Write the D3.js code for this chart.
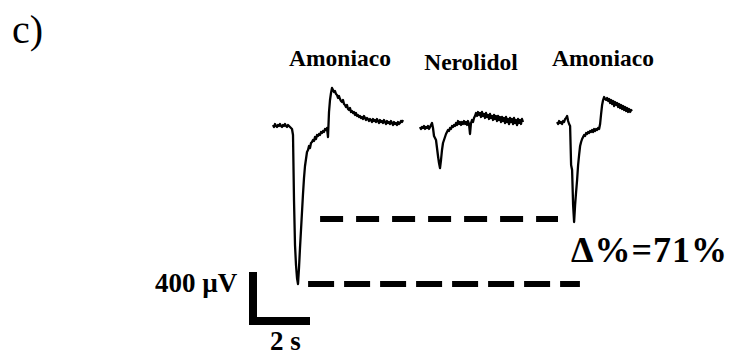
<!DOCTYPE html>
<html>
<head>
<meta charset="utf-8">
<script src="https://cdn.jsdelivr.net/npm/d3@7"></script>
<style>
  html, body { margin: 0; padding: 0; background: #fff; }
  svg { display: block; }
  text { font-family: "Liberation Serif", "Times New Roman", serif; fill: #000; }
</style>
</head>
<body>
<svg id="chart" width="734" height="356"></svg>
<script>
// Electroantennogram recording: responses to three successive stimuli.
// Samples in µV, one every sampleInterval seconds.
const stimuli = ["Amoniaco", "Nerolidol", "Amoniaco"];
const startTimes = [0, 4.9, 9.47]; // s
const sampleInterval = 1 / 30;     // s

const amoniaco1 = [
  8,-8,16,0,-8,8,0,16,0,-8,8,0,16,0,-8,8,0,-8,-16,-24,
  -72,-592,-952,-1112,-1216,-1264,-1136,-976,-832,-688,-544,
  -416,-320,-264,-208,-192,-160,-176,-136,-128,-112,-120,-88,-104,-72,-80,-64,-72,-48,-56,-40,-48,-24,-32,-16,-88,
  112,208,264,304,288,272,280,256,248,224,240,216,200,192,208,176,168,152,168,136,128,144,112,120,104,112,88,104,80,88,72,80,
  64,72,56,80,64,48,64,56,40,56,48,32,56,40,48,32,56,40,24,48,32,40,24,48,32,16,40,24,32,16,40,24,8,32,16,24,8,32,16,24,40,32,48
];

const nerolidol = [
  -8,-24,-8,-16,0,-24,-8,-16,0,-24,-8,8,24,-16,
  -80,-96,-112,-176,-240,-296,-336,-272,-192,-136,-112,-88,-64,-48,-32,-40,-16,-24,0,-8,8,0,
  24,8,40,16,32,8,32,16,40,16,32,8,40,16,-64,24,48,32,64,80,104,80,112,88,104,72,112,80,96,64,104,72,88,56,96,64,80,48,88,56,80,40,80,48,72,32,72,40,64,24,72,32,56,16,64,32,56,16,64,24,48,8,56,24,48,16,56,32
];

const amoniaco2 = [
  32,16,40,24,32,16,40,32,56,64,80,40,16,0,
  -312,-352,-632,-768,-632,-528,-432,-312,-232,-160,-128,-104,-88,-72,-80,-56,-64,-48,-56,-40,-48,-32,-48,-24,-40,-24,-32,-16,-24,
  16,96,168,208,232,216,208,224,200,216,184,208,176,200,160,192,168,184,152,176,144,168,136,160,128,152,120,144,112,136,112,128,120
];

const traces = [amoniaco1, nerolidol, amoniaco2];

// Peak-amplitude reference levels (µV) and their time spans (s)
const levels = [-1264, -744];
const levelSpans = [[1.17, 10.23], [1.57, 9.5]];
const levelDashes = ["26,10", "23,13"];

const labelX = [340, 471, 603];
const labelY = [66, 70, 66];

const deltaLabel = "Δ%=71%";
const scaleBarVolt = 400; // µV
const scaleBarTime = 2;   // s

const svg = d3.select("#chart");

const x = d3.scaleLinear().domain([0, 12]).range([273, 633]);
const y = d3.scaleLinear().domain([0, -1600]).range([126, 326]);

// panel tag
svg.append("text")
  .attr("x", 12).attr("y", 43)
  .attr("font-size", 40)
  .text("c)");

// stimulus names
svg.selectAll("text.stim")
  .data(stimuli)
  .join("text")
  .attr("class", "stim")
  .attr("x", (d, i) => labelX[i])
  .attr("y", (d, i) => labelY[i])
  .attr("text-anchor", "middle")
  .attr("font-size", 23.5)
  .attr("font-weight", "bold")
  .text(d => d);

// recorded traces
traces.forEach((data, k) => {
  const line = d3.line()
    .x((d, i) => x(startTimes[k] + i * sampleInterval))
    .y(d => y(d));
  svg.append("path")
    .datum(data)
    .attr("d", line)
    .attr("fill", "none")
    .attr("stroke", "#000")
    .attr("stroke-width", 2.3)
    .attr("stroke-linejoin", "round");
});

// dashed amplitude levels
levels.forEach((v, k) => {
  svg.append("line")
    .attr("x1", x(levelSpans[k][0]))
    .attr("x2", x(levelSpans[k][1]))
    .attr("y1", y(v))
    .attr("y2", y(v))
    .attr("stroke", "#000")
    .attr("stroke-width", 6)
    .attr("stroke-dasharray", levelDashes[k]);
});

// amplitude change label
svg.append("text")
  .attr("x", 571).attr("y", 262)
  .attr("font-size", 36)
  .attr("font-weight", "bold")
  .attr("letter-spacing", 1)
  .text(deltaLabel);

// scale bar
const barW = 8;
const vLen = y(-scaleBarVolt) - y(0);
const hLen = x(scaleBarTime) - x(0);
const bx = 249, by = 272;
svg.append("rect")
  .attr("x", bx).attr("y", by)
  .attr("width", barW).attr("height", vLen + 3)
  .attr("fill", "#000");
svg.append("rect")
  .attr("x", bx).attr("y", by + vLen + 3 - barW)
  .attr("width", hLen + 1).attr("height", barW)
  .attr("fill", "#000");

svg.append("text")
  .attr("x", 155).attr("y", 292)
  .attr("font-size", 27)
  .attr("font-weight", "bold")
  .text(scaleBarVolt + " µV");

svg.append("text")
  .attr("x", 270).attr("y", 350)
  .attr("font-size", 27)
  .attr("font-weight", "bold")
  .text(scaleBarTime + " s");
</script>
</body>
</html>
